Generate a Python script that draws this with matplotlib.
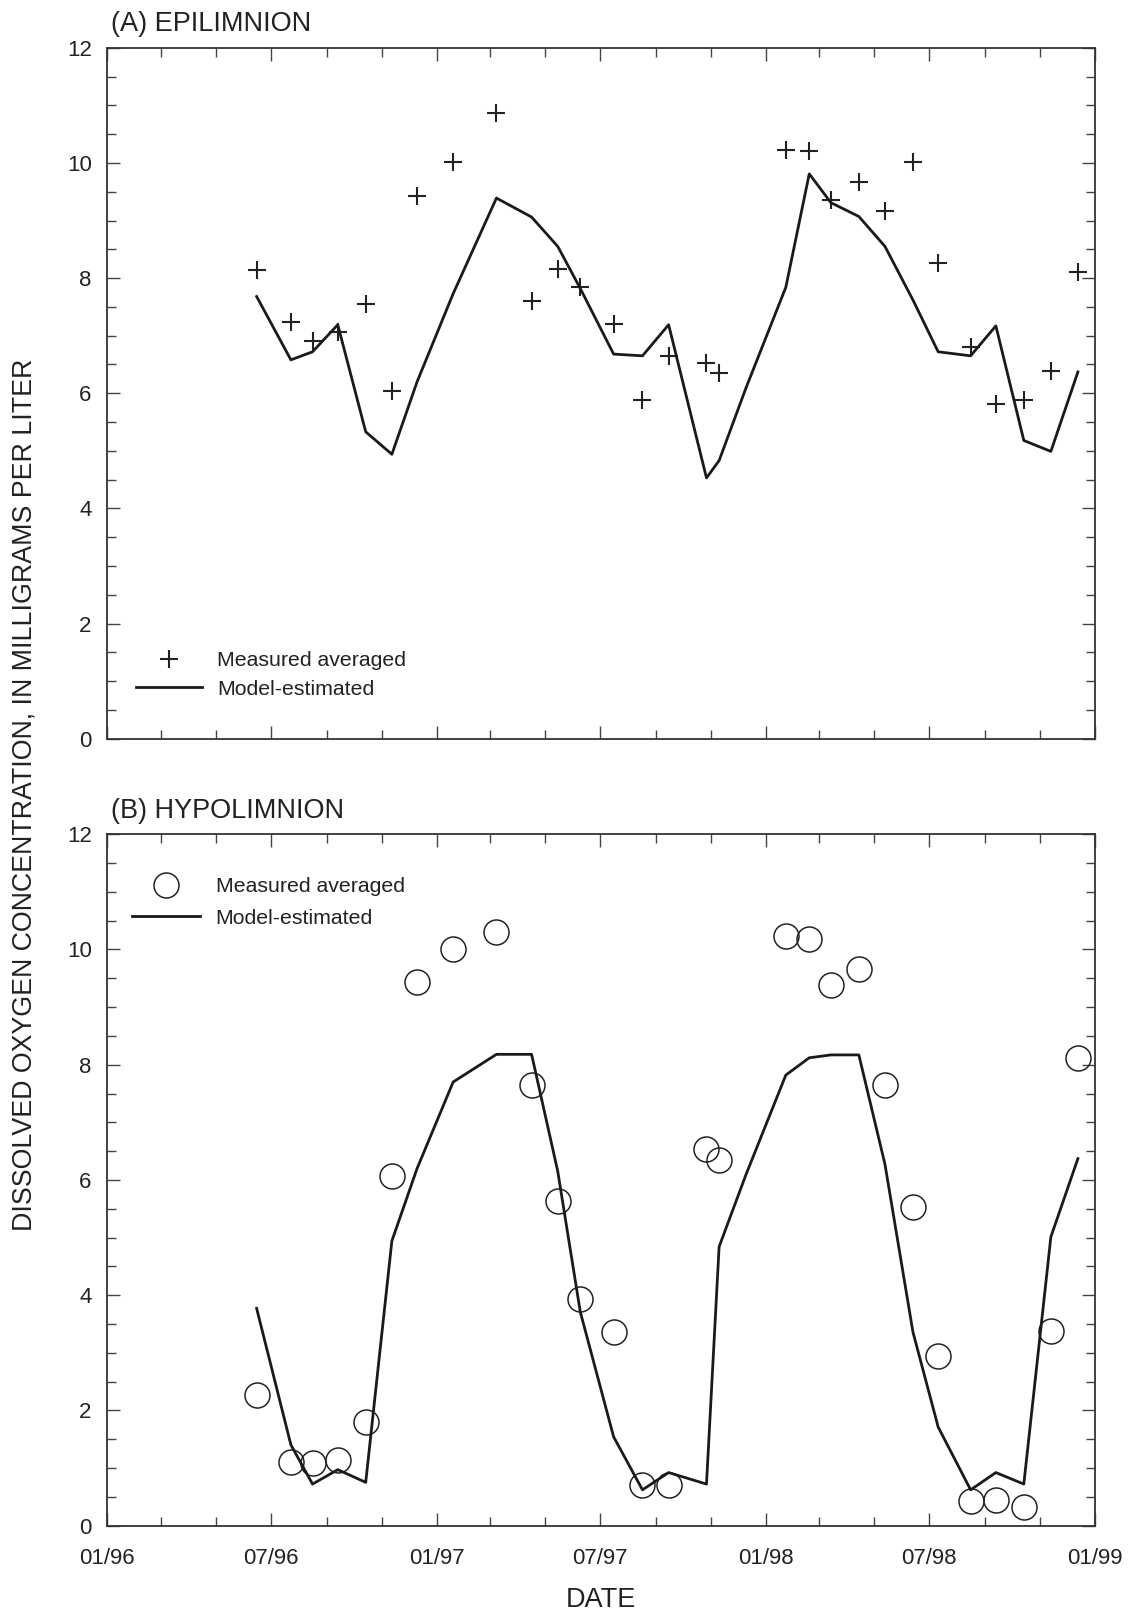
import matplotlib.pyplot as plt
import matplotlib.dates as mdates
import pandas as pd
from matplotlib.ticker import MultipleLocator

plt.rcParams['font.family'] = ['Liberation Sans', 'DejaVu Sans']

# ---- data ----
meas_dates = ['1996-06-15', '1996-07-23', '1996-08-16', '1996-09-13', '1996-10-14',
              '1996-11-12', '1996-12-10', '1997-01-19', '1997-03-08', '1997-04-16',
              '1997-05-15', '1997-06-09', '1997-07-16', '1997-08-17', '1997-09-15',
              '1997-10-27', '1997-11-10', '1998-01-23', '1998-02-18', '1998-03-14',
              '1998-04-14', '1998-05-13', '1998-06-13', '1998-07-11', '1998-08-16',
              '1998-09-13', '1998-10-14', '1998-11-13', '1998-12-13']

model_dates = ['1996-06-15', '1996-07-23', '1996-08-16', '1996-09-13', '1996-10-14',
               '1996-11-12', '1996-12-10', '1997-01-19', '1997-03-08', '1997-04-16',
               '1997-05-15', '1997-06-09', '1997-07-16', '1997-08-17', '1997-09-15',
               '1997-10-27', '1997-11-10', '1997-12-10', '1998-01-23', '1998-02-18',
               '1998-03-14', '1998-04-14', '1998-05-13', '1998-06-13', '1998-07-11',
               '1998-08-16', '1998-09-13', '1998-10-14', '1998-11-13', '1998-12-13']

epi_measured = [8.14, 7.23, 6.90, 7.07, 7.55, 6.04, 9.43, 10.01, 10.87, 7.61,
                8.16, 7.85, 7.20, 5.88, 6.64, 6.52, 6.35, 10.22, 10.20, 9.36,
                9.67, 9.17, 10.01, 8.26, 6.80, 5.81, 5.89, 6.39, 8.10]

epi_model = [7.68, 6.58, 6.72, 7.19, 5.33, 4.94, 6.20, 7.73, 9.39, 9.06,
             8.55, 7.82, 6.68, 6.65, 7.19, 4.53, 4.83, 6.10, 7.84, 9.81,
             9.31, 9.07, 8.55, 7.62, 6.72, 6.65, 7.17, 5.18, 4.99, 6.37]

hypo_measured = [2.26, 1.10, 1.08, 1.14, 1.79, 6.06, 9.44, 10.01, 10.30, 7.64,
                 5.64, 3.94, 3.36, 0.70, 0.71, 6.53, 6.35, 10.23, 10.19, 9.38,
                 9.66, 7.65, 5.53, 2.95, 0.42, 0.45, 0.33, 3.38, 8.12]

hypo_model = [3.77, 1.40, 0.72, 0.97, 0.75, 4.94, 6.20, 7.70, 8.18, 8.18,
              6.15, 3.71, 1.54, 0.62, 0.92, 0.72, 4.84, 6.10, 7.82, 8.12,
              8.17, 8.17, 6.27, 3.36, 1.71, 0.62, 0.92, 0.72, 5.01, 6.37]

x_start, x_end = '1996-01-01', '1999-01-01'

meas_x = pd.to_datetime(meas_dates)
model_x = pd.to_datetime(model_dates)

INK = '#222222'
AXC = '#333333'

fig = plt.figure(figsize=(11.31, 16.14), dpi=100)
ax_a = fig.add_axes([0.0946, 0.5423, 0.8736, 0.4281])
ax_b = fig.add_axes([0.0946, 0.0548, 0.8736, 0.4283])


def style_axes(ax, show_xlabels):
    ax.set_xlim(pd.Timestamp(x_start), pd.Timestamp(x_end))
    ax.set_ylim(0, 12)
    ax.xaxis.set_major_locator(mdates.MonthLocator(bymonth=[1, 7]))
    ax.xaxis.set_minor_locator(mdates.MonthLocator(bymonth=[3, 5, 9, 11]))
    ax.xaxis.set_major_formatter(mdates.DateFormatter('%m/%y'))
    ax.yaxis.set_major_locator(MultipleLocator(2))
    ax.yaxis.set_minor_locator(MultipleLocator(0.5))
    ax.tick_params(which='both', direction='in', top=True, right=True,
                   color='#444444', width=1.0, labelcolor=INK, labelsize=16)
    ax.tick_params(which='major', length=9.5)
    ax.tick_params(which='minor', length=6.8)
    ax.tick_params(axis='y', which='major', pad=11)
    ax.tick_params(axis='x', which='major', pad=16, labelbottom=show_xlabels)
    for s in ax.spines.values():
        s.set_color(AXC)
        s.set_linewidth(1.3)


# (A) epilimnion
ax_a.plot(meas_x, epi_measured, linestyle='none', marker='+', ms=13, mew=1.5,
          color=INK, label='Measured averaged')
ax_a.plot(model_x, epi_model, color='#1a1a1a', lw=2.0, label='Model-estimated')
style_axes(ax_a, False)
ax_a.text(0.004, 1.015, '(A) EPILIMNION', transform=ax_a.transAxes,
          fontsize=19.5, color=INK, ha='left', va='bottom')
ax_a.legend(loc='lower left', bbox_to_anchor=(0.029, 0.058), frameon=False,
            borderpad=0, borderaxespad=0, fontsize=15.3, handlelength=3.1,
            handletextpad=0.75, labelspacing=0.45, labelcolor=INK)

# (B) hypolimnion
ax_b.plot(meas_x, hypo_measured, linestyle='none', marker='o', ms=18, mew=1.1,
          mfc='none', mec=INK, label='Measured averaged')
ax_b.plot(model_x, hypo_model, color='#1a1a1a', lw=2.0, label='Model-estimated')
style_axes(ax_b, True)
ax_b.text(0.004, 1.015, '(B) HYPOLIMNION', transform=ax_b.transAxes,
          fontsize=19.5, color=INK, ha='left', va='bottom')
ax_b.legend(loc='upper left', bbox_to_anchor=(0.025, 0.938), frameon=False,
            borderpad=0, borderaxespad=0, fontsize=15.3, handlelength=3.2,
            handletextpad=0.75, labelspacing=0.6, labelcolor=INK)
ax_b.set_xlabel('DATE', fontsize=19.5, color=INK, labelpad=13)

fig.text(0.022, 1 - 795 / 1614, 'DISSOLVED OXYGEN CONCENTRATION, IN MILLIGRAMS PER LITER',
         rotation=90, fontsize=19.3, color=INK, ha='center', va='center')

fig.savefig('out.png', dpi=100)
